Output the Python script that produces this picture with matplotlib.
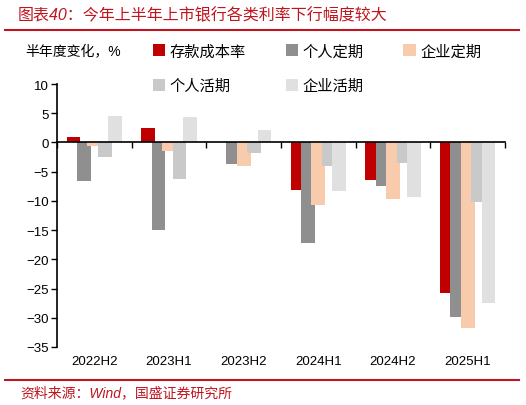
import matplotlib
matplotlib.use("Agg")
import matplotlib.pyplot as plt
from matplotlib.patches import Patch
from matplotlib.lines import Line2D
import numpy as np

plt.rcParams['font.family'] = ['Liberation Sans', 'Noto Sans CJK SC', 'DejaVu Sans']
plt.rcParams['axes.unicode_minus'] = True

categories = ['2022H2', '2023H1', '2023H2', '2024H1', '2024H2', '2025H1']
series_names = ['存款成本率', '个人定期', '企业定期', '个人活期', '企业活期']
deposit_cost = [1.0, 2.5, 0.0, -8.2, -6.5, -25.8]
personal_fixed = [-6.6, -15.0, -3.7, -17.2, -7.5, -29.8]
corporate_fixed = [-0.6, -1.5, -4.0, -10.7, -9.7, -31.8]
personal_demand = [-2.5, -6.2, -1.8, -4.0, -3.5, -10.2]
corporate_demand = [4.6, 4.3, 2.2, -8.3, -9.4, -27.5]
yticks = [10, 5, 0, -5, -10, -15, -20, -25, -30, -35]

series = [deposit_cost, personal_fixed, corporate_fixed, personal_demand, corporate_demand]
colors = ['#C00000', '#8F8F8F', '#F8CBAD', '#C9C9C9', '#E0E0E0']

fig = plt.figure(figsize=(5.26, 4.06), dpi=100)
ax = fig.add_axes([0.1084, 0.1429, 0.8516, 0.6477])

x = np.arange(len(categories))
step = 0.14
width = 0.185
for i, (vals, c) in enumerate(zip(series, colors)):
    ax.bar(x + (i - 2) * step, vals, width=width, color=c, zorder=2 + i)

ax.set_xlim(-0.5, len(categories) - 0.5)
ax.set_ylim(-35, 10)
ax.set_yticks(yticks)
ax.set_yticklabels([str(v) if v >= 0 else '\u2212' + str(-v) for v in yticks], fontsize=9.5)
ax.tick_params(axis='y', direction='out', length=4, width=1, colors='black', pad=2)

for s in ['top', 'right']:
    ax.spines[s].set_visible(False)
ax.spines['left'].set_linewidth(1.2)
ax.spines['bottom'].set_position(('data', 0))
ax.spines['bottom'].set_linewidth(1.2)
ax.spines['bottom'].set_zorder(10)
ax.set_xticks(np.arange(len(categories) + 1) - 0.5)
ax.set_xticklabels([])
ax.tick_params(axis='x', direction='out', length=4, width=1)
for xi, lab in zip(x, categories):
    ax.text(xi, -0.055, lab, transform=ax.get_xaxis_transform(), ha='center', va='center', fontsize=9.5)

# y label
fig.text(25 / 526, 1 - 52 / 406, '半年度变化，%', fontsize=10, ha='left', va='center')

# legend (row-major order: reorder for matplotlib's column filling)
handles = [Patch(facecolor=c, edgecolor='none') for c in colors]
order = [0, 3, 1, 4, 2]
fig.legend([handles[k] for k in order], [series_names[k] for k in order], ncol=3, loc='upper left',
           bbox_to_anchor=(153 / 526, 1 - 45 / 406),
           frameon=False, fontsize=11, handlelength=0.8, handleheight=0.8, handletextpad=0.3,
           columnspacing=2.6, labelspacing=1.35, borderpad=0, borderaxespad=0)

# title and source
red = '#C0141E'
fig.text(18 / 526, 1 - 15 / 406, '图表40：今年上半年上市银行各类利率下行幅度较大', color=red, fontsize=11.5,
         style='italic', ha='left', va='center')
fig.add_artist(Line2D([5 / 526, 519 / 526], [1 - 31 / 406] * 2, color=red, lw=1.5))
fig.add_artist(Line2D([5 / 526, 519 / 526], [1 - 381 / 406] * 2, color=red, lw=1.5))
fig.text(20 / 526, 1 - 393 / 406, '资料来源：Wind，国盛证券研究所', color=red, fontsize=10,
         style='italic', ha='left', va='center')

fig.savefig('out.png', dpi=100)
